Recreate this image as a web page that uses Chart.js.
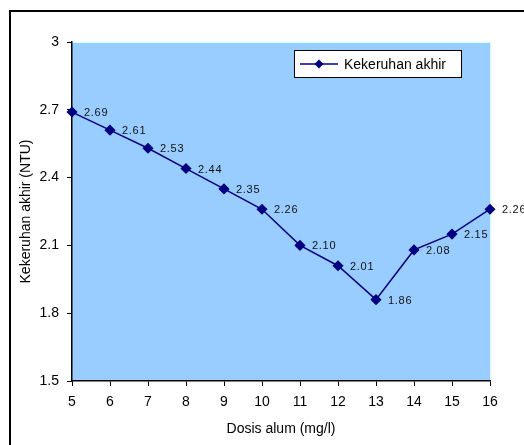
<!DOCTYPE html>
<html lang="id">
<head>
    <meta charset="UTF-8">
    <title>Kekeruhan akhir</title>
    <style>
        body { margin: 0; background: #fff; }
        canvas { display: block; }
    </style>
</head>
<body>
    <canvas id="myChart" width="524" height="445"></canvas>

    <script src="https://cdn.jsdelivr.net/npm/chart.js"></script>
    <script>
        // Daten
        const dosis = [5, 6, 7, 8, 9, 10, 11, 12, 13, 14, 15, 16];
        const kekeruhan = [2.69, 2.61, 2.53, 2.44, 2.35, 2.26, 2.10, 2.01, 1.86, 2.08, 2.15, 2.26];
        const labelTexte = ['2.69', '2.61', '2.53', '2.44', '2.35', '2.26', '2.10', '2.01', '1.86', '2.08', '2.15', '2.26'];
        const seriesName = 'Kekeruhan akhir';
        const yTicks = [1.5, 1.8, 2.1, 2.4, 2.7, 3];

        const NAVY = '#000080';
        const FONT = 'Liberation Sans, Arial, sans-serif';

        // Hintergrund, Rahmen, Werte-Labels und Legende
        const deko = {
            id: 'deko',
            beforeDraw(chart) {
                const { ctx, chartArea: a } = chart;
                ctx.save();
                ctx.fillStyle = '#99ccff';
                ctx.fillRect(a.left, a.top, a.right - a.left, a.bottom - a.top);
                ctx.strokeStyle = '#ccffff';
                ctx.lineWidth = 1;
                ctx.beginPath();
                ctx.moveTo(a.left, a.top + 0.5);
                ctx.lineTo(a.right + 0.5, a.top + 0.5);
                ctx.lineTo(a.right + 0.5, a.bottom);
                ctx.stroke();
                // aeusserer Rahmen
                ctx.strokeStyle = '#000';
                ctx.lineWidth = 2;
                ctx.strokeRect(10, 11, 530, 450);
                ctx.restore();
            },
            afterDatasetsDraw(chart) {
                const { ctx } = chart;
                const meta = chart.getDatasetMeta(0);
                ctx.save();
                ctx.font = '11px ' + FONT;
                ctx.letterSpacing = '0.7px';
                ctx.fillStyle = '#111';
                ctx.textBaseline = 'middle';
                ctx.textAlign = 'left';
                meta.data.forEach((pt, i) => {
                    ctx.fillText(labelTexte[i], pt.x + 12, pt.y + 1);
                });
                ctx.letterSpacing = '0px';

                // Legende
                const lx = 294, ly = 50, lw = 167, lh = 27;
                ctx.fillStyle = '#fff';
                ctx.fillRect(lx, ly, lw, lh);
                ctx.strokeStyle = '#000';
                ctx.lineWidth = 1;
                ctx.strokeRect(lx + 0.5, ly + 0.5, lw, lh);
                const cy = ly + lh / 2 + 0.5;
                ctx.strokeStyle = NAVY;
                ctx.lineWidth = 1.5;
                ctx.beginPath();
                ctx.moveTo(lx + 6, cy);
                ctx.lineTo(lx + 44, cy);
                ctx.stroke();
                ctx.fillStyle = NAVY;
                ctx.beginPath();
                ctx.moveTo(lx + 25, cy - 4.5);
                ctx.lineTo(lx + 29.5, cy);
                ctx.lineTo(lx + 25, cy + 4.5);
                ctx.lineTo(lx + 20.5, cy);
                ctx.closePath();
                ctx.fill();
                ctx.fillStyle = '#000';
                ctx.font = '14px ' + FONT;
                ctx.textBaseline = 'middle';
                ctx.fillText(seriesName, lx + 50, cy + 1);
                ctx.restore();
            }
        };

        const config = {
            type: 'line',
            data: {
                datasets: [{
                    label: seriesName,
                    data: dosis.map((d, i) => ({ x: d, y: kekeruhan[i] })),
                    borderColor: NAVY,
                    backgroundColor: NAVY,
                    borderWidth: 1.5,
                    pointStyle: 'rectRot',
                    pointRadius: 4.5,
                    pointHoverRadius: 4.5,
                    fill: false,
                    tension: 0,
                    clip: false
                }]
            },
            options: {
                responsive: false,
                animation: false,
                events: [],
                layout: { padding: { left: 0, top: 42, right: 34, bottom: 0 } },
                plugins: {
                    legend: { display: false },
                    tooltip: { enabled: false }
                },
                scales: {
                    x: {
                        type: 'linear',
                        min: 5,
                        max: 16,
                        afterFit(s) { s.height = 64; },
                        afterBuildTicks(s) { s.ticks = dosis.map(v => ({ value: v })); },
                        grid: { drawOnChartArea: false, color: '#000', tickLength: 5, tickWidth: 1 },
                        border: { color: '#000', width: 1.5 },
                        ticks: { color: '#000', font: { family: FONT, size: 14 }, padding: 8, maxRotation: 0 },
                        title: {
                            display: true,
                            text: 'Dosis alum (mg/l)',
                            color: '#000',
                            font: { family: FONT, size: 14 },
                            padding: { top: 0, bottom: 7 }
                        }
                    },
                    y: {
                        min: 1.5,
                        max: 3,
                        afterFit(s) { s.width = 72; },
                        afterBuildTicks(s) { s.ticks = yTicks.map(v => ({ value: v })); },
                        grid: { drawOnChartArea: false, color: '#000', tickLength: 5, tickWidth: 1 },
                        border: { color: '#000', width: 1.5 },
                        ticks: {
                            color: '#000',
                            font: { family: FONT, size: 14 },
                            padding: 8,
                            callback: v => String(v)
                        },
                        title: {
                            display: true,
                            text: 'Kekeruhan akhir (NTU)',
                            color: '#000',
                            font: { family: FONT, size: 14 },
                            padding: { top: 18, bottom: 0 }
                        }
                    }
                }
            },
            plugins: [deko]
        };

        new Chart(document.querySelector('#myChart').getContext('2d'), config);
    </script>
</body>
</html>
